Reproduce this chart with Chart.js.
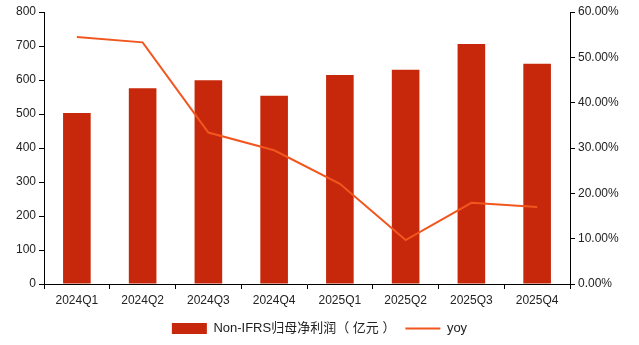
<!DOCTYPE html>
<html>
<head>
<meta charset="utf-8">
<script src="https://cdn.jsdelivr.net/npm/chart.js@4/dist/chart.umd.min.js"></script>
<style>
  html, body { margin: 0; padding: 0; background: #fff; }
  #wrap { width: 639px; height: 345px; }
</style>
</head>
<body>
<div id="wrap"><canvas id="profit-chart"></canvas></div>
<script>
const quarters = ["2024Q1", "2024Q2", "2024Q3", "2024Q4", "2025Q1", "2025Q2", "2025Q3", "2025Q4"];
// Non-IFRS 归母净利润, 亿元
const profit = [503, 576, 599, 554, 615, 630, 706, 648];
// yoy, %
const yoy = [54.5, 53.3, 33.4, 29.5, 22.1, 9.7, 17.9, 17.0];

const FONT = "'Liberation Sans', Arial, 'Noto Sans CJK SC', sans-serif";
Chart.defaults.font.family = FONT;
Chart.defaults.font.size = 12;
Chart.defaults.color = "#222";

const axisGrid = {
  display: true,
  drawOnChartArea: false,
  drawTicks: true,
  tickLength: 5,
  color: "#000"
};

new Chart(document.getElementById("profit-chart"), {
  data: {
    labels: quarters,
    datasets: [
      {
        type: "bar",
        label: "Non-IFRS归母净利润（ 亿元 ）",
        data: profit,
        backgroundColor: "#c7280b",
        borderWidth: 0,
        barPercentage: 0.84,
        categoryPercentage: 0.5,
        pointStyle: "rect",
        yAxisID: "y",
        order: 2
      },
      {
        type: "line",
        label: "yoy",
        data: yoy,
        borderColor: "#f2561f",
        backgroundColor: "#f2561f",
        borderWidth: 2,
        pointRadius: 0,
        tension: 0,
        pointStyle: "line",
        yAxisID: "y1",
        order: 1
      }
    ]
  },
  options: {
    responsive: true,
    maintainAspectRatio: false,
    animation: false,
    layout: { padding: { top: 12, left: 0, right: 0, bottom: 0 } },
    plugins: {
      tooltip: { enabled: false },
      legend: {
        position: "bottom",
        labels: {
          usePointStyle: true,
          pointStyleWidth: 35,
          boxHeight: 11,
          padding: 10,
          font: { size: 13 },
          color: "#222",
          sort: (a, b) => a.datasetIndex - b.datasetIndex
        }
      }
    },
    scales: {
      x: {
        grid: axisGrid,
        border: { color: "#000", width: 1 },
        ticks: { padding: 4, maxRotation: 0 },
        afterFit: (scale) => { scale.height = 28; }
      },
      y: {
        position: "left",
        min: 0,
        max: 800,
        ticks: { stepSize: 100, padding: 3 },
        grid: axisGrid,
        border: { color: "#000", width: 1 },
        afterFit: (scale) => { scale.width = 44; }
      },
      y1: {
        position: "right",
        min: 0,
        max: 60,
        ticks: {
          stepSize: 10,
          padding: 3,
          callback: (v) => v.toFixed(2) + "%"
        },
        grid: axisGrid,
        border: { color: "#000", width: 1 },
        afterFit: (scale) => { scale.width = 69; }
      }
    }
  }
});
</script>
</body>
</html>
